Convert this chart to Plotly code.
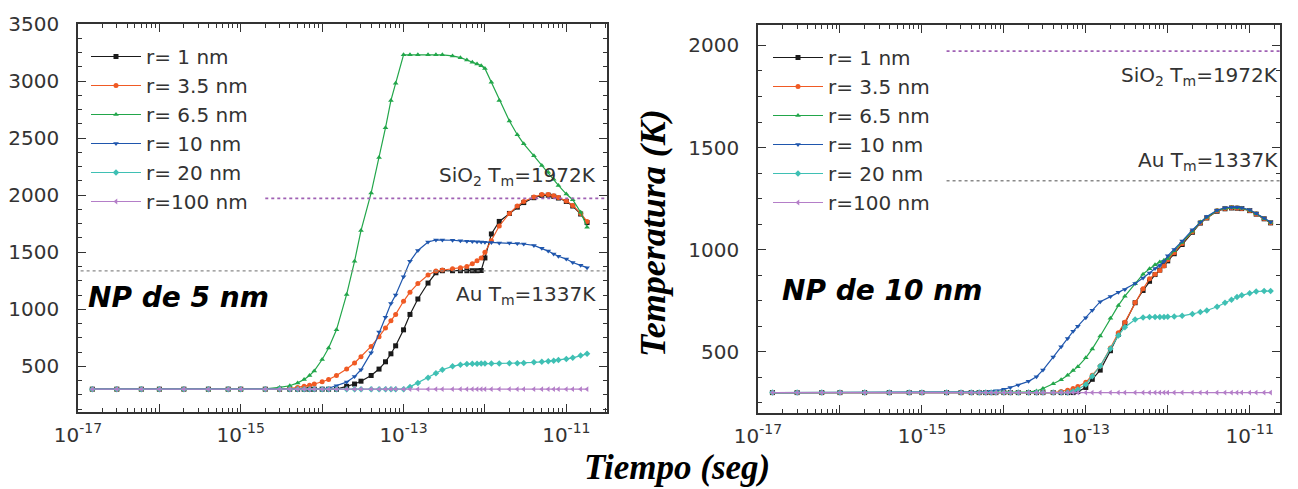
import plotly.graph_objects as go

W, H = 1298, 489

# ---------------- data ----------------
TIME_S = [1.5e-17, 3e-17, 6e-17, 1e-16, 2e-16, 4e-16, 7e-16, 1e-15, 2e-15, 3e-15,
          4e-15, 5e-15, 6e-15, 7e-15, 8e-15, 1e-14, 1.2e-14, 1.5e-14, 2e-14, 2.5e-14,
          3e-14, 4e-14, 5e-14, 6e-14, 7e-14, 8e-14, 1e-13, 1.2e-13, 1.5e-13, 2e-13,
          2.5e-13, 3e-13, 4e-13, 5e-13, 6e-13, 7e-13, 8e-13, 9e-13, 1e-12, 1.2e-12,
          1.5e-12, 2e-12, 2.5e-12, 3e-12, 4e-12, 5e-12, 6e-12, 7e-12, 8e-12, 1e-11,
          1.2e-11, 1.5e-11, 1.8e-11]

SERIES_NAMES = ["r= 1 nm", "r= 3.5 nm", "r= 6.5 nm", "r= 10 nm", "r= 20 nm", "r=100 nm"]

# NP de 5 nm (left panel), temperature in K
L_R1 = [300]*18 + [325, 345, 370, 420, 476, 540, 610, 680, 820, 955, 1090, 1230, 1320, 1338,
                   1338, 1338, 1338, 1338, 1338, 1340, 1450, 1660, 1770, 1840, 1895, 1935, 1978,
                   1998, 2000, 1990, 1975, 1945, 1905, 1835, 1760]
L_R3_5 = [300]*10 + [305, 315, 325, 335, 345, 365, 385, 420, 476, 530, 585, 675, 760, 835, 900,
                     955, 1070, 1150, 1225, 1300, 1335, 1345, 1355, 1365, 1375, 1400, 1425, 1450,
                     1500, 1600, 1730, 1840, 1905, 1945, 1985, 2005, 2005, 1995, 1980, 1950, 1910,
                     1840, 1770]
L_R6_5 = [300]*8 + [302, 315, 330, 355, 385, 420, 460, 560, 660, 820, 1130, 1420, 1690, 2020,
                    2330, 2590, 2830, 2980, 3230, 3230, 3230, 3230, 3230, 3230, 3220, 3205, 3185,
                    3165, 3150, 3135, 3110, 2990, 2830, 2650, 2530, 2450, 2345, 2260, 2200, 2140,
                    2085, 2010, 1960, 1850, 1720]
L_R10 = [300]*16 + [308, 330, 362, 410, 470, 620, 800, 930, 1050, 1125, 1285, 1420, 1515, 1590,
                    1608, 1608, 1605, 1600, 1597, 1594, 1591, 1590, 1588, 1585, 1580, 1580, 1577,
                    1572, 1560, 1535, 1510, 1485, 1465, 1440, 1410, 1385, 1365]
L_R20 = [300]*27 + [320, 355, 400, 440, 470, 500, 515, 520, 522, 523, 524, 525, 525, 526, 527,
                    528, 530, 535, 540, 545, 550, 555, 565, 575, 595, 610]
L_R100 = [300]*53

# NP de 10 nm (right panel), temperature in K
R_R1 = [300]*25 + [305, 325, 365, 410, 505, 585, 640, 740, 800, 845, 878, 900, 922, 945, 980,
                   1025, 1085, 1130, 1155, 1188, 1200, 1204, 1203, 1201, 1191, 1174, 1151, 1131]
R_R3_5 = [300]*22 + [305, 312, 320, 330, 350, 385, 430, 518, 593, 645, 741, 808, 857, 880, 898,
                     920, 950, 985, 1030, 1088, 1132, 1156, 1190, 1202, 1205, 1204, 1202, 1192,
                     1175, 1152, 1132]
R_R6_5 = [300]*18 + [302, 308, 320, 343, 363, 385, 408, 427, 470, 514, 577, 664, 727, 772, 833,
                     880, 906, 926, 940, 948, 957, 995, 1035, 1090, 1135, 1158, 1192, 1203, 1206,
                     1205, 1203, 1193, 1176, 1153, 1133]
R_R10 = [300]*12 + [303, 306, 309, 316, 325, 337, 355, 378, 410, 474, 525, 565, 600, 625, 666,
                    703, 745, 770, 791, 805, 834, 861, 885, 907, 922, 942, 970, 1001, 1042, 1097,
                    1134, 1162, 1193, 1205, 1208, 1207, 1205, 1195, 1178, 1155, 1135]
R_R20 = [300]*24 + [305, 315, 340, 380, 430, 515, 580, 620, 658, 668, 670, 670, 670, 670, 671,
                    673, 676, 685, 695, 702, 720, 740, 755, 768, 776, 787, 795, 797, 797]
R_R100 = [300]*53

SIO2_TM = 1972
AU_TM = 1337
# start times of the melting-point reference lines [left panel, right panel]
SIO2_LINE_START = [2e-15, 2e-15]
AU_LINE_START = [1e-18, 2e-15]

# ---------------- style ----------------
COLORS = ["#1a1a1a", "#f05a24", "#22a64a", "#1f56ad", "#3fc0b4", "#b47ec8"]
SYMBOLS = ["square", "circle", "triangle-up", "triangle-down", "diamond", "triangle-left"]
SANS = "DejaVu Sans, Liberation Sans, Arial, sans-serif"
SERIF = "Liberation Serif, Times New Roman, serif"
TXT = "#333333"

fig = go.Figure()

left = [L_R1, L_R3_5, L_R6_5, L_R10, L_R20, L_R100]
right = [R_R1, R_R3_5, R_R6_5, R_R10, R_R20, R_R100]

for i, (name, ys) in enumerate(zip(SERIES_NAMES, left)):
    fig.add_trace(go.Scatter(x=TIME_S, y=ys, name=name, mode="lines+markers",
                             line=dict(color=COLORS[i], width=1.2),
                             marker=dict(symbol=SYMBOLS[i], size=5, color=COLORS[i]),
                             xaxis="x", yaxis="y", legend="legend"))
for i, (name, ys) in enumerate(zip(SERIES_NAMES, right)):
    fig.add_trace(go.Scatter(x=TIME_S, y=ys, name=name, mode="lines+markers",
                             line=dict(color=COLORS[i], width=1.2),
                             marker=dict(symbol=SYMBOLS[i], size=5, color=COLORS[i]),
                             xaxis="x2", yaxis="y2", legend="legend2"))

# melting point reference lines
for k, (xa, ya) in enumerate([("x", "y"), ("x2", "y2")]):
    fig.add_trace(go.Scatter(x=[SIO2_LINE_START[k], 1e-10], y=[SIO2_TM, SIO2_TM], mode="lines",
                             line=dict(color="#a062b4", width=1.6, dash="dot"),
                             showlegend=False, hoverinfo="skip", xaxis=xa, yaxis=ya))
    fig.add_trace(go.Scatter(x=[AU_LINE_START[k], 1e-10], y=[AU_TM, AU_TM], mode="lines",
                             line=dict(color="#8a8a8a", width=1.4, dash="dot"),
                             showlegend=False, hoverinfo="skip", xaxis=xa, yaxis=ya))

def px(x):
    return x / W

def py(y):
    return 1 - y / H

major_x = [1e-17, 1e-16, 1e-15, 1e-14, 1e-13, 1e-12, 1e-11]
major_x_text = ["10<sup>-17</sup>", "", "10<sup>-15</sup>", "", "10<sup>-13</sup>", "", "10<sup>-11</sup>"]
minor_x = [m * 10.0 ** e for e in range(-17, -10) for m in range(2, 10)]

def xaxis_cfg(domain, rng):
    return dict(type="log", domain=domain, range=rng, tickmode="array", automargin=False,
                tickvals=major_x, ticktext=major_x_text, ticks="inside", ticklen=8,
                tickwidth=1.3, tickcolor=TXT, showline=True, linecolor=TXT, linewidth=1.5,
                mirror="allticks", showgrid=False, zeroline=False,
                tickfont=dict(family=SANS, size=20, color=TXT), ticklabelstandoff=4,
                minor=dict(tickmode="array", tickvals=minor_x, ticks="inside", ticklen=4,
                           tickwidth=1.1, tickcolor=TXT, showgrid=False))

def yaxis_cfg(domain, rng, anchor, vals):
    return dict(domain=domain, range=rng, anchor=anchor, tickmode="array", tickvals=vals,
                automargin=False,
                ticks="inside", ticklen=8, tickwidth=1.3, tickcolor=TXT, showline=True,
                linecolor=TXT, linewidth=1.5, mirror="allticks", showgrid=False, zeroline=False,
                tickfont=dict(family=SANS, size=20, color=TXT), ticklabelstandoff=13,
                minor=dict(dtick=125, ticks="inside", ticklen=4, tickwidth=1.1,
                           tickcolor=TXT, showgrid=False))

legend_common = dict(bgcolor="rgba(0,0,0,0)", borderwidth=0, xanchor="left", yanchor="top",
                     font=dict(family=SANS, size=20, color=TXT), itemwidth=50,
                     tracegroupgap=0)

annotations = [
    dict(text="SiO<sub>2</sub> T<sub>m</sub>=1972K", x=px(598), y=py(176), xanchor="right", yanchor="middle"),
    dict(text="Au T<sub>m</sub>=1337K", x=px(598), y=py(295), xanchor="right", yanchor="middle"),
    dict(text="SiO<sub>2</sub> T<sub>m</sub>=1972K", x=px(1280), y=py(76), xanchor="right", yanchor="middle"),
    dict(text="Au T<sub>m</sub>=1337K", x=px(1280), y=py(161), xanchor="right", yanchor="middle"),
]
for a in annotations:
    a.update(xref="paper", yref="paper", showarrow=False,
             font=dict(family=SANS, size=20, color=TXT))
annotations += [
    dict(text="<b><i>NP de 5 nm</i></b>", x=px(86), y=py(297), xanchor="left", yanchor="middle",
         xref="paper", yref="paper", showarrow=False, font=dict(family=SANS, size=28, color="#000")),
    dict(text="<b><i>NP de 10 nm</i></b>", x=px(780), y=py(290), xanchor="left", yanchor="middle",
         xref="paper", yref="paper", showarrow=False, font=dict(family=SANS, size=28, color="#000")),
    dict(text="<b><i>Temperatura (K)</i></b>", x=px(653), y=py(233), xanchor="center", yanchor="middle",
         textangle=-90, xref="paper", yref="paper", showarrow=False,
         font=dict(family=SERIF, size=36, color="#000")),
    dict(text="<b><i>Tiempo (seg)</i></b>", x=px(677), y=py(467), xanchor="center", yanchor="middle",
         xref="paper", yref="paper", showarrow=False, font=dict(family=SERIF, size=35, color="#000")),
]

fig.update_layout(
    width=W, height=H, margin=dict(l=0, r=0, t=0, b=0),
    paper_bgcolor="white", plot_bgcolor="white",
    xaxis=xaxis_cfg([px(78), px(607)], [-17, -10.5]) | dict(anchor="y"),
    yaxis=yaxis_cfg([py(412), py(24)], [100, 3500], "x", [500, 1000, 1500, 2000, 2500, 3000, 3500]),
    xaxis2=xaxis_cfg([px(758), px(1280)], [-17, -10.63]) | dict(anchor="y2"),
    yaxis2=yaxis_cfg([py(413), py(25)], [200, 2100], "x2", [500, 1000, 1500, 2000]),
    legend=legend_common | dict(x=px(86), y=py(37)),
    legend2=legend_common | dict(x=px(768), y=py(38)),
    annotations=annotations,
    showlegend=True,
)

fig.write_html("out.html")
